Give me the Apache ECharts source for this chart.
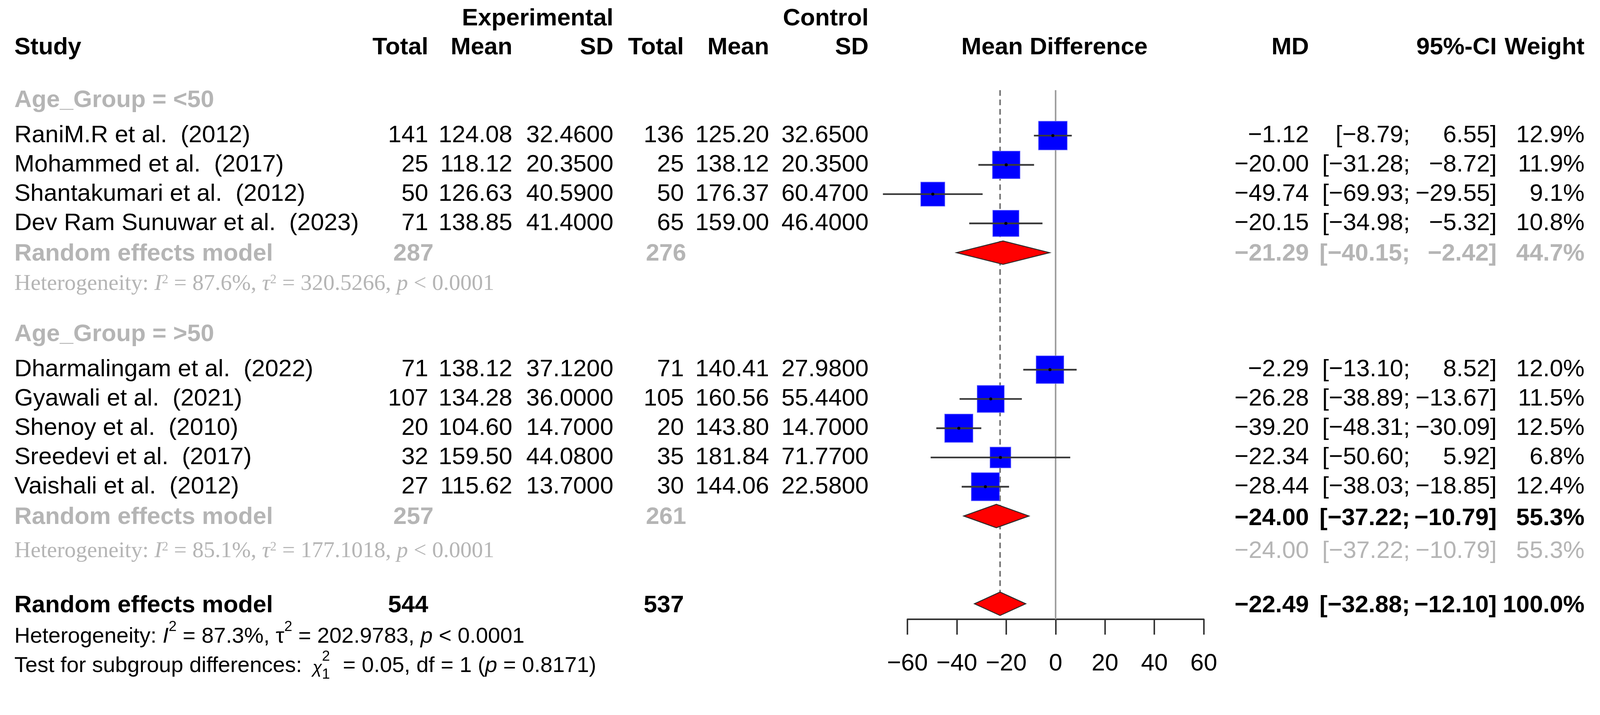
<!DOCTYPE html>
<html><head><meta charset="utf-8">
<script src="https://cdn.jsdelivr.net/npm/echarts@6/dist/echarts.min.js"></script>
<style>html,body{margin:0;padding:0;background:#fff;overflow:hidden}#c{width:100vw;height:100vh}</style>
</head><body><div id="c"></div>
<script>
// ================= DATA =================
const studies = ['RaniM.R et al.  (2012)', 'Mohammed et al.  (2017)', 'Shantakumari et al.  (2012)', 'Dev Ram Sunuwar et al.  (2023)',
  'Dharmalingam et al.  (2022)', 'Gyawali et al.  (2021)', 'Shenoy et al.  (2010)', 'Sreedevi et al.  (2017)', 'Vaishali et al.  (2012)'];
const studyGroup = [0, 0, 0, 0, 1, 1, 1, 1, 1];
const groupLabels = ['Age_Group = <50', 'Age_Group = >50'];
const expTotal = [141, 25, 50, 71, 71, 107, 20, 32, 27];
const expMean = [124.08, 118.12, 126.63, 138.85, 138.12, 134.28, 104.60, 159.50, 115.62];
const expSD = [32.46, 20.35, 40.59, 41.40, 37.12, 36.00, 14.70, 44.08, 13.70];
const ctrlTotal = [136, 25, 50, 65, 71, 105, 20, 35, 30];
const ctrlMean = [125.20, 138.12, 176.37, 159.00, 140.41, 160.56, 143.80, 181.84, 144.06];
const ctrlSD = [32.65, 20.35, 60.47, 46.40, 27.98, 55.44, 14.70, 71.77, 22.58];
const md = [-1.12, -20.00, -49.74, -20.15, -2.29, -26.28, -39.20, -22.34, -28.44];
const ciLower = [-8.79, -31.28, -69.93, -34.98, -13.10, -38.89, -48.31, -50.60, -38.03];
const ciUpper = [6.55, -8.72, -29.55, -5.32, 8.52, -13.67, -30.09, 5.92, -18.85];
const weight = [12.9, 11.9, 9.1, 10.8, 12.0, 11.5, 12.5, 6.8, 12.4];

const subgroupExpTotal = [287, 257];
const subgroupCtrlTotal = [276, 261];
const subgroupMD = [-21.29, -24.00];
const subgroupLower = [-40.15, -37.22];
const subgroupUpper = [-2.42, -10.79];
const subgroupWeight = [44.7, 55.3];
const subgroupI2 = [87.6, 85.1];
const subgroupTau2 = [320.5266, 177.1018];
const subgroupP = ['< 0.0001', '< 0.0001'];

const overallExpTotal = [544];
const overallCtrlTotal = [537];
const overallMD = [-22.49];
const overallLower = [-32.88];
const overallUpper = [-12.10];
const overallWeight = [100.0];
const overallI2 = [87.3];
const overallTau2 = [202.9783];
const overallP = ['< 0.0001'];
const testChi2 = [0.05];
const testDf = [1];
const testP = [0.8171];

const xTicks = [-60, -40, -20, 0, 20, 40, 60];
const xMin = -60, xMax = 60, xInterval = 20;

// ================= LAYOUT / STYLE (design px for a 4244x1830 canvas) =================
const W = 4244, H = 1830;
const ROW_H = 77.6, ROW0_Y = 282, AXIS_Y = 1642;
const PLOT_LEFT = 2407, PLOT_RIGHT = 3193;
const REF_TOP_Y = 239;
const SQUARE_K = 21.2;
const DIAMOND_HALF = 31;
const COL = { study: 38, expTotal: 1136, expTotalB: 1150, expMean: 1359, expSD: 1627, ctrlTotal: 1814, ctrlTotalB: 1820,
  ctrlMean: 2040, ctrlSD: 2304, mdHdr: 2797, md: 3472, ciL: 3740, ciU: 3970, w: 4203 };
const SANS = '"Liberation Sans", Arial, sans-serif';
const SERIF = '"Liberation Serif", "Times New Roman", serif';
const FS = 64, FS_SUBHET = 60, FS_HET = 58;
const BLACK = '#000000', GRAY = '#b5b5b5';

const yMinRow = -ROW0_Y / ROW_H;
const yMaxText = (H - ROW0_Y) / ROW_H;
const yMaxPlot = (AXIS_Y - ROW0_Y) / ROW_H;
const refTopRow = (REF_TOP_Y - ROW0_Y) / ROW_H;

// ================= HELPERS =================
const dom = document.getElementById('c');
const S = dom.clientWidth / W;
dom.style.height = (H * S) + 'px';
const MINUS = '\u2212';
function fmt(v, d) { return (v < 0 ? MINUS : '') + Math.abs(v).toFixed(d); }
function pct(v) { return v.toFixed(1) + '%'; }
const mctx = document.createElement('canvas').getContext('2d');
function fontStr(s) { return s.style + ' ' + s.weight + ' ' + (s.size * S) + 'px ' + s.family; }
function measure(s) { mctx.font = fontStr(s); return mctx.measureText(s.t).width; }
function seg(t, o) { return Object.assign({ t: t, size: FS, family: SANS, weight: 'normal', style: 'normal', color: BLACK, dy: 0, dx: 0 }, o || {}); }

// rows
let r = 0;
const groupRow = [], studyRow = [], reRow = [], hetRow = [];
for (let g = 0; g < groupLabels.length; g++) {
  groupRow[g] = r++;
  studies.forEach((s, i) => { if (studyGroup[i] === g) studyRow[i] = r++; });
  reRow[g] = r++;
  hetRow[g] = r++;
  r++;
}
const overallRow = r, overallHetRow = r + 1, testRow = r + 2;

// ================= TEXT ITEMS =================
const items = [];
function addText(x, row, segs, align) { items.push({ x: x, row: row, segs: segs, align: align || 'left' }); }
const B = { weight: 'bold' };
addText(COL.expSD, -3, [seg('Experimental', B)], 'right');
addText(COL.ctrlSD, -3, [seg('Control', B)], 'right');
addText(COL.study, -2, [seg('Study', B)]);
addText(COL.expTotal, -2, [seg('Total', B)], 'right');
addText(COL.expMean, -2, [seg('Mean', B)], 'right');
addText(COL.expSD, -2, [seg('SD', B)], 'right');
addText(COL.ctrlTotal, -2, [seg('Total', B)], 'right');
addText(COL.ctrlMean, -2, [seg('Mean', B)], 'right');
addText(COL.ctrlSD, -2, [seg('SD', B)], 'right');
addText(COL.mdHdr, -2, [seg('Mean Difference', B)], 'center');
addText(COL.md, -2, [seg('MD', B)], 'right');
addText(COL.ciU, -2, [seg('95%-CI', B)], 'right');
addText(COL.w, -2, [seg('Weight', B)], 'right');

function statsRow(row, m, lo, hi, w, o) {
  addText(COL.md, row, [seg(fmt(m, 2), o)], 'right');
  addText(COL.ciL, row, [seg('[' + fmt(lo, 2) + ';', o)], 'right');
  addText(COL.ciU, row, [seg(fmt(hi, 2) + ']', o)], 'right');
  addText(COL.w, row, [seg(pct(w), o)], 'right');
}

studies.forEach((s, i) => {
  const row = studyRow[i];
  addText(COL.study, row, [seg(s)]);
  addText(COL.expTotal, row, [seg(String(expTotal[i]))], 'right');
  addText(COL.expMean, row, [seg(expMean[i].toFixed(2))], 'right');
  addText(COL.expSD, row, [seg(expSD[i].toFixed(4))], 'right');
  addText(COL.ctrlTotal, row, [seg(String(ctrlTotal[i]))], 'right');
  addText(COL.ctrlMean, row, [seg(ctrlMean[i].toFixed(2))], 'right');
  addText(COL.ctrlSD, row, [seg(ctrlSD[i].toFixed(4))], 'right');
  statsRow(row, md[i], ciLower[i], ciUpper[i], weight[i], {});
});

const hetOffset = [0.07, 0.2];
function subHetSegs(i2, tau2, p, color) {
  const o = { size: FS_SUBHET, family: SERIF, color: color };
  const it = Object.assign({}, o, { style: 'italic' });
  const sup = Object.assign({}, o, { size: 34, dy: -11 });
  return [seg('Heterogeneity: ', o), seg('I', it), seg('2', sup), seg(' = ' + i2.toFixed(1) + '%, ', o),
    seg('\u03c4', it), seg('2', sup), seg(' = ' + tau2.toFixed(4) + ', ', o), seg('p', it), seg(' ' + p, o)];
}
for (let g = 0; g < groupLabels.length; g++) {
  addText(COL.study, groupRow[g] - 0.2, [seg(groupLabels[g], { weight: 'bold', color: GRAY })]);
  addText(COL.study, reRow[g] + 0.05, [seg('Random effects model', { weight: 'bold', color: GRAY })]);
  addText(COL.expTotalB, reRow[g] + 0.05, [seg(String(subgroupExpTotal[g]), { weight: 'bold', color: GRAY })], 'right');
  addText(COL.ctrlTotalB, reRow[g] + 0.05, [seg(String(subgroupCtrlTotal[g]), { weight: 'bold', color: GRAY })], 'right');
  addText(COL.study, hetRow[g] + hetOffset[g], subHetSegs(subgroupI2[g], subgroupTau2[g], subgroupP[g], GRAY));
}
statsRow(reRow[0] + 0.05, subgroupMD[0], subgroupLower[0], subgroupUpper[0], subgroupWeight[0], { weight: 'bold', color: GRAY });
statsRow(reRow[1] + 0.08, subgroupMD[1], subgroupLower[1], subgroupUpper[1], subgroupWeight[1], { weight: 'bold', color: BLACK });
statsRow(hetRow[1] + hetOffset[1], subgroupMD[1], subgroupLower[1], subgroupUpper[1], subgroupWeight[1], { color: GRAY });

addText(COL.study, overallRow + 0.06, [seg('Random effects model', B)]);
addText(COL.expTotal, overallRow + 0.06, [seg(String(overallExpTotal[0]), B)], 'right');
addText(COL.ctrlTotal, overallRow + 0.06, [seg(String(overallCtrlTotal[0]), B)], 'right');
statsRow(overallRow + 0.06, overallMD[0], overallLower[0], overallUpper[0], overallWeight[0], B);

(function () {
  const o = { size: FS_HET };
  const it = { size: FS_HET, style: 'italic' };
  const sup = { size: 38, dy: -25 };
  addText(COL.study, overallHetRow + 0.12, [seg('Heterogeneity: ', o), seg('I', it), seg('2', sup), seg(' = ' + overallI2[0].toFixed(1) + '%, ', o),
    seg('\u03c4', o), seg('2', sup), seg(' = ' + overallTau2[0].toFixed(4) + ', ', o), seg('p', it), seg(' ' + overallP[0], o)]);
  addText(COL.study, testRow + 0.13, [seg('Test for subgroup differences: ', o), seg('\u03c7', { size: 46, style: 'italic', dy: 6, dx: 12 }),
    seg('2', { size: 38, dy: -25, noAdvance: true }), seg('1', { size: 38, dy: 23 }),
    seg(' = ' + testChi2[0].toFixed(2) + ', df = ' + testDf[0] + ' (', Object.assign({ dx: 18 }, o)), seg('p', it), seg(' = ' + testP[0].toFixed(4) + ')', o)]);
})();

// ================= CHART =================
const chart = echarts.init(dom, null, { renderer: 'canvas', width: dom.clientWidth, height: H * S });

function renderText(params, api) {
  const item = items[api.value(2)];
  const p = api.coord([api.value(0), api.value(1)]);
  const widths = item.segs.map(s => measure(s));
  let total = 0;
  item.segs.forEach((s, k) => { total += s.dx * S; if (!s.noAdvance) total += widths[k]; });
  let x = item.align === 'right' ? p[0] - total : item.align === 'center' ? p[0] - total / 2 : p[0];
  const children = [];
  item.segs.forEach((s, k) => {
    x += s.dx * S;
    children.push({ type: 'text', x: x, y: p[1] + s.dy * S, silent: true,
      style: { text: s.t, fontSize: s.size * S, fontFamily: s.family, fontWeight: s.weight, fontStyle: s.style,
        fill: s.color, align: 'left', verticalAlign: 'middle' } });
    if (!s.noAdvance) x += widths[k];
  });
  return { type: 'group', children: children };
}

const studyData = studies.map((s, i) => [md[i], studyRow[i], ciLower[i], ciUpper[i], weight[i]]);
const diamondData = subgroupMD.map((m, g) => [m, reRow[g], subgroupLower[g], subgroupUpper[g]])
  .concat([[overallMD[0], overallRow, overallLower[0], overallUpper[0]]]);

chart.setOption({
  animation: false,
  backgroundColor: '#ffffff',
  grid: [
    { left: 0, right: 0, top: 0, bottom: 0 },
    { left: PLOT_LEFT * S, right: (W - PLOT_RIGHT) * S, top: 0, bottom: (H - AXIS_Y) * S }
  ],
  xAxis: [
    { gridIndex: 0, type: 'value', min: 0, max: W, show: false },
    { gridIndex: 1, type: 'value', min: xMin, max: xMax, interval: xInterval, position: 'bottom',
      axisLine: { show: true, onZero: false, lineStyle: { color: '#333333', width: 4 * S } },
      axisTick: { show: true, length: 41 * S, inside: false, customValues: xTicks, lineStyle: { color: '#333333', width: 4 * S } },
      axisLabel: { show: true, margin: 86 * S, fontSize: FS * S, fontFamily: SANS, color: '#000000', customValues: xTicks,
        formatter: v => fmt(v, 0) },
      splitLine: { show: false } }
  ],
  yAxis: [
    { gridIndex: 0, type: 'value', inverse: true, min: yMinRow, max: yMaxText, show: false },
    { gridIndex: 1, type: 'value', inverse: true, min: yMinRow, max: yMaxPlot, show: false }
  ],
  series: [
    { type: 'custom', name: 'refLines', xAxisIndex: 1, yAxisIndex: 1, silent: true,
      data: [[0, refTopRow, yMaxPlot, 0], [overallMD[0], refTopRow, overallRow, 1]],
      renderItem: (params, api) => {
        const dashed = api.value(3) === 1;
        const a = api.coord([api.value(0), api.value(1)]);
        const b = api.coord([api.value(0), api.value(2)]);
        const y2 = dashed ? b[1] - DIAMOND_HALF * S : b[1];
        return { type: 'line', shape: { x1: a[0], y1: a[1], x2: b[0], y2: y2 },
          style: dashed ? { stroke: '#6e6e6e', lineWidth: 4 * S, lineDash: [15 * S, 10 * S] } : { stroke: '#9a9a9a', lineWidth: 4 * S } };
      } },
    { type: 'custom', name: 'studies', xAxisIndex: 1, yAxisIndex: 1, silent: true, data: studyData,
      renderItem: (params, api) => {
        const c = api.coord([api.value(0), api.value(1)]);
        const l = api.coord([api.value(2), api.value(1)]);
        const h = api.coord([api.value(3), api.value(1)]);
        const s = SQUARE_K * S * Math.sqrt(api.value(4));
        return { type: 'group', children: [
          { type: 'rect', shape: { x: c[0] - s / 2, y: c[1] - s / 2, width: s, height: s }, style: { fill: '#0000ff', stroke: '#6a6aff', lineWidth: 1.5 * S } },
          { type: 'line', shape: { x1: l[0], y1: l[1], x2: h[0], y2: h[1] }, style: { stroke: '#3a3a3a', lineWidth: 4.5 * S } },
          { type: 'circle', shape: { cx: c[0], cy: c[1], r: 4 * S }, style: { fill: '#000000' } }
        ] };
      } },
    { type: 'custom', name: 'diamonds', xAxisIndex: 1, yAxisIndex: 1, silent: true, data: diamondData,
      renderItem: (params, api) => {
        const c = api.coord([api.value(0), api.value(1)]);
        const l = api.coord([api.value(2), api.value(1)]);
        const h = api.coord([api.value(3), api.value(1)]);
        const d = DIAMOND_HALF * S;
        return { type: 'polygon', shape: { points: [[l[0], c[1]], [c[0], c[1] - d], [h[0], c[1]], [c[0], c[1] + d]] },
          style: { fill: '#ff0000', stroke: '#2a2a2a', lineWidth: 2.5 * S } };
      } },
    { type: 'custom', name: 'text', xAxisIndex: 0, yAxisIndex: 0, silent: true,
      data: items.map((it, i) => [it.x, it.row, i]),
      renderItem: renderText }
  ]
});
</script>
</body></html>
